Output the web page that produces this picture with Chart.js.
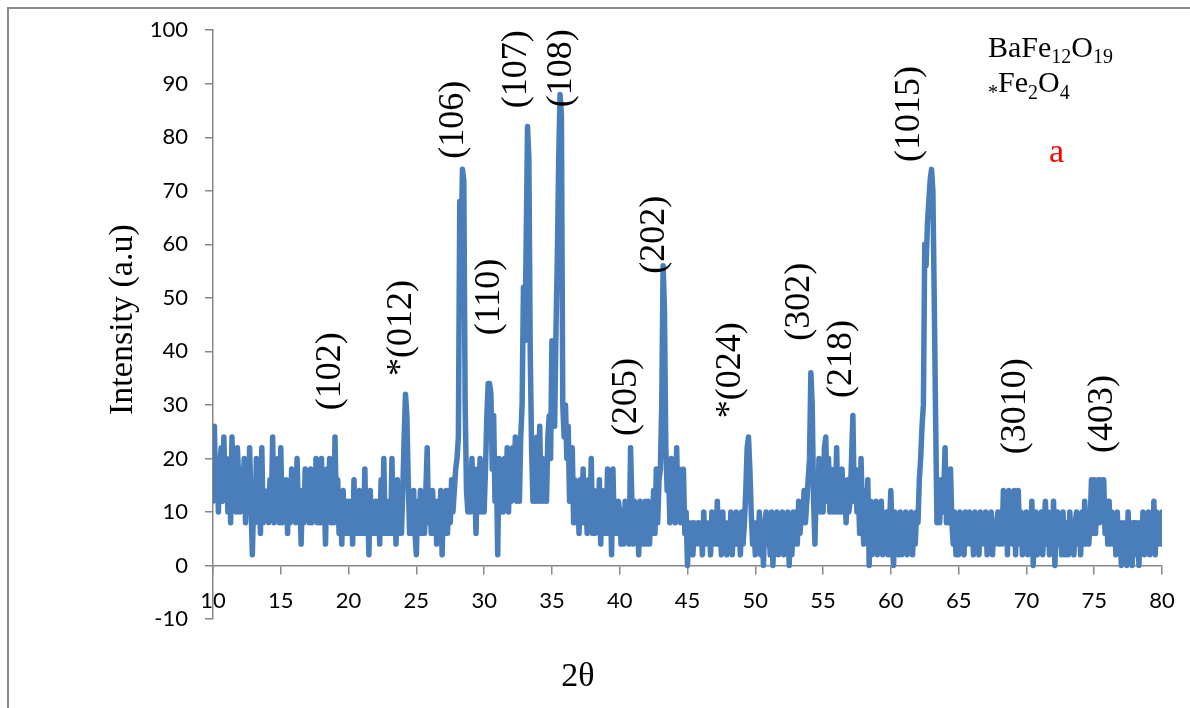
<!DOCTYPE html>
<html>
<head>
<meta charset="utf-8">
<title>XRD pattern – BaFe12O19</title>
<script src="https://cdn.jsdelivr.net/npm/chart.js@4.4.1/dist/chart.umd.min.js"></script>
<style>
  html, body { margin: 0; padding: 0; background: #fff; }
  canvas { display: block; }
</style>
</head>
<body>
<canvas id="xrd" width="1190" height="708"></canvas>
<script>
// Diffraction scan, 10°–80° 2θ in 0.1° steps (intensity in a.u.)
const SCAN_START = 10;
const SCAN_STEP = 0.1;

// one row per degree: x.0 … x.9
const counts10s = [
  12, 26, 14, 20, 10, 18, 22, 12, 24, 14,
  20, 10, 18, 8, 24, 12, 20, 10, 22, 16,
  10, 18, 12, 20, 8, 16, 10, 22, 12, 2,
  12, 8, 20, 10, 14, 6, 22, 8, 14, 10,
  12, 8, 16, 10, 24, 8, 14, 10, 20, 8,
  22, 8, 14, 10, 16, 6, 14, 8, 18, 10,
  14, 8, 20, 10, 14, 4, 14, 8, 18, 10,
  14, 8, 18, 8, 14, 10, 20, 8, 14, 8,
  20, 8, 14, 4, 18, 10, 20, 8, 14, 8,
  24, 10, 16, 6, 12, 4, 14, 6, 12, 6
];
const counts20s = [
  12, 6, 12, 4, 16, 6, 12, 6, 14, 6,
  12, 6, 18, 6, 12, 2, 14, 6, 10, 6,
  12, 6, 12, 4, 16, 6, 20, 6, 12, 6,
  12, 6, 20, 6, 12, 4, 16, 6, 12, 6,
  14, 24, 32, 28, 16, 6, 12, 6, 14, 6,
  2, 12, 6, 14, 6, 12, 6, 14, 22, 8,
  12, 6, 14, 6, 12, 4, 12, 6, 14, 2,
  12, 6, 14, 6, 14, 8, 16, 10, 14, 18,
  20, 24, 68, 60, 74, 72, 30, 14, 10, 18,
  10, 20, 12, 16, 6, 18, 10, 20, 10, 14
];
const counts30s = [
  10, 18, 28, 34, 34, 32, 18, 28, 12, 20,
  2, 20, 10, 18, 10, 20, 12, 22, 10, 20,
  12, 22, 14, 24, 12, 20, 12, 24, 30, 52,
  42, 60, 82, 76, 40, 22, 12, 22, 12, 24,
  12, 26, 12, 20, 12, 18, 12, 24, 28, 20,
  42, 34, 26, 44, 58, 76, 88, 84, 30, 24,
  30, 20, 26, 12, 18, 22, 8, 16, 8, 14,
  6, 16, 8, 18, 8, 14, 6, 16, 8, 20,
  6, 14, 6, 12, 8, 16, 4, 14, 6, 12,
  6, 18, 6, 14, 2, 18, 6, 12, 6, 12
];
const counts40s = [
  10, 4, 10, 4, 12, 6, 10, 4, 22, 12,
  4, 12, 6, 10, 2, 12, 4, 10, 4, 12,
  4, 12, 4, 10, 6, 14, 6, 18, 8, 16,
  18, 30, 56, 48, 22, 14, 18, 8, 20, 10,
  16, 8, 22, 10, 18, 8, 14, 18, 6, 10,
  0, 8, 4, 8, 2, 8, 4, 6, 8, 4,
  8, 2, 10, 4, 8, 4, 8, 2, 10, 4,
  8, 4, 12, 4, 8, 2, 10, 4, 8, 2,
  8, 4, 10, 2, 8, 4, 10, 4, 8, 2,
  10, 4, 8, 14, 22, 24, 18, 10, 4, 8
];
const counts50s = [
  2, 8, 4, 10, 2, 8, 0, 8, 10, 4,
  8, 2, 10, 0, 8, 4, 10, 2, 8, 4,
  10, 2, 8, 4, 10, 0, 8, 2, 10, 4,
  10, 4, 12, 6, 10, 8, 14, 8, 12, 16,
  20, 36, 30, 12, 4, 16, 10, 20, 10, 18,
  10, 22, 24, 12, 20, 10, 18, 10, 14, 10,
  22, 10, 16, 10, 18, 10, 14, 8, 16, 10,
  12, 20, 28, 12, 18, 10, 14, 6, 20, 10,
  4, 14, 6, 16, 0, 12, 2, 10, 4, 12,
  2, 8, 4, 12, 2, 8, 4, 10, 2, 8
];
const counts60s = [
  14, 4, 0, 10, 4, 8, 2, 10, 2, 8,
  4, 10, 2, 8, 4, 10, 2, 8, 4, 10,
  8, 16, 20, 26, 30, 60, 56, 64, 68, 72,
  74, 70, 50, 28, 8, 12, 8, 16, 10, 14,
  22, 8, 16, 8, 18, 8, 4, 10, 2, 8,
  2, 10, 4, 8, 2, 10, 4, 8, 10, 4,
  8, 2, 10, 4, 8, 2, 10, 4, 8, 4,
  10, 2, 8, 4, 10, 2, 8, 4, 8, 10,
  4, 10, 4, 14, 6, 12, 2, 14, 6, 10,
  4, 14, 2, 12, 14, 4, 10, 2, 8, 4
];
const counts70s = [
  10, 2, 8, 4, 12, 0, 8, 10, 2, 8,
  4, 10, 2, 8, 12, 4, 10, 2, 8, 4,
  12, 0, 8, 10, 4, 8, 2, 10, 2, 8,
  8, 2, 10, 4, 8, 2, 8, 10, 4, 8,
  2, 10, 4, 12, 4, 10, 4, 8, 16, 6,
  16, 6, 14, 16, 8, 16, 10, 16, 6, 12,
  4, 12, 4, 10, 4, 8, 2, 10, 4, 8,
  0, 8, 2, 8, 0, 10, 2, 8, 0, 8,
  8, 2, 8, 0, 8, 4, 10, 2, 8, 4,
  10, 2, 8, 4, 12, 2, 10, 4, 8, 4
];
const counts80 = [10];

// axis ticks
const xTickValues = [10, 15, 20, 25, 30, 35, 40, 45, 50, 55, 60, 65, 70, 75, 80];
const yTickValues = [-10, 0, 10, 20, 30, 40, 50, 60, 70, 80, 90, 100];

// reflection labels: text, 2θ of the label, intensity where the text starts
const peakNames = ['(102)', '*(012)', '(106)', '(110)', '(107)', '(108)', '(205)',
                   '(202)', '*(024)', '(302)', '(218)', '(1015)', '(3010)', '(403)'];
const peakTwoTheta = [18.7, 23.95, 27.8, 30.4, 32.4, 35.75, 40.5,
                      42.6, 48.2, 53.3, 56.4, 61.4, 69.2, 75.6];
const peakTextBase = [29, 35.4, 76, 43, 85.4, 85.6, 24.2,
                      54.5, 27.5, 42, 31.3, 75.4, 20.8, 21];

const AXIS_GREY = '#878787';
const LINE_BLUE = '#4a7ebb';
const SERIF = '"Liberation Serif", "Times New Roman", serif';

const intensity = [].concat(counts10s, counts20s, counts30s, counts40s,
                            counts50s, counts60s, counts70s, counts80);
const scanPoints = intensity.map((v, i) => ({
  x: +(SCAN_START + i * SCAN_STEP).toFixed(1),
  y: v
}));

// draws runs of normal / subscript text, returns the end x
function drawRuns(ctx, x, baseline, runs, size, subSize, subDrop) {
  runs.forEach(([text, sub]) => {
    ctx.font = (sub ? subSize : size) + 'px ' + SERIF;
    ctx.fillText(text, x, baseline + (sub ? subDrop : 0));
    x += ctx.measureText(text).width;
  });
  return x;
}

const annotationText = {
  id: 'annotationText',
  beforeDraw(chart) {
    const ctx = chart.ctx;
    ctx.save();
    ctx.strokeStyle = '#8c8c8c';
    ctx.lineWidth = 2;
    ctx.beginPath();
    ctx.moveTo(8, chart.height);
    ctx.lineTo(8, 8);
    ctx.lineTo(chart.width, 8);
    ctx.stroke();
    ctx.restore();
  },
  afterDraw(chart) {
    const ctx = chart.ctx;
    const xs = chart.scales.x, ys = chart.scales.y;
    const area = chart.chartArea;
    ctx.save();
    ctx.fillStyle = '#000';
    ctx.textAlign = 'left';
    ctx.textBaseline = 'alphabetic';

    // reflection indices, written upwards
    const size = 36;
    ctx.font = size + 'px ' + SERIF;
    peakNames.forEach((name, i) => {
      const px = xs.getPixelForValue(peakTwoTheta[i]) + 0.255 * size;
      const py = ys.getPixelForValue(peakTextBase[i]);
      ctx.save();
      ctx.translate(px, py);
      ctx.rotate(-Math.PI / 2);
      ctx.fillText(name, 0, 0);
      ctx.restore();
    });

    // axis titles
    ctx.font = '34px ' + SERIF;
    ctx.save();
    ctx.translate(132, (area.top + area.bottom) / 2 - 5);
    ctx.rotate(-Math.PI / 2);
    ctx.textAlign = 'center';
    ctx.fillText('Intensity (a.u)', 0, 0);
    ctx.restore();

    ctx.textAlign = 'center';
    ctx.fillText('2θ', 578, 686);

    // phase key
    ctx.textAlign = 'left';
    drawRuns(ctx, 988, 57, [['BaFe', false], ['12', true], ['O', false], ['19', true]], 30, 20, 6);
    drawRuns(ctx, 988, 92, [['*', true], ['Fe', false], ['2', true], ['O', false], ['4', true]], 30, 20, 7);

    ctx.fillStyle = '#ff0000';
    ctx.font = '34px ' + SERIF;
    ctx.fillText('a', 1049, 162);
    ctx.restore();
  }
};

function buildChart() {
  new Chart(document.getElementById('xrd'), {
    type: 'line',
    data: {
      datasets: [{
        data: scanPoints,
        borderColor: LINE_BLUE,
        backgroundColor: LINE_BLUE,
        borderWidth: 5.5,
        borderJoinStyle: 'round',
        borderCapStyle: 'round',
        pointRadius: 0,
        tension: 0,
        fill: false
      }]
    },
    options: {
      responsive: false,
      animation: false,
      devicePixelRatio: 1,
      layout: { padding: { left: 0, top: 28, right: 28, bottom: 89 } },
      plugins: { legend: { display: false }, tooltip: { enabled: false } },
      scales: {
        x: {
          type: 'linear',
          position: { y: 0 },
          min: 10,
          max: 80,
          afterBuildTicks: s => { s.ticks = xTickValues.map(v => ({ value: v })); },
          grid: { drawOnChartArea: false, drawTicks: true, tickLength: 8, color: AXIS_GREY, lineWidth: 1.5 },
          border: { display: true, color: AXIS_GREY, width: 1.5 },
          ticks: { color: '#000', font: { family: 'Lato', size: 22 }, padding: 14, maxRotation: 0, autoSkip: false }
        },
        y: {
          type: 'linear',
          position: 'left',
          min: -10,
          max: 100,
          afterBuildTicks: s => { s.ticks = yTickValues.map(v => ({ value: v })); },
          afterFit: s => { s.width = 213; },
          grid: { drawOnChartArea: false, drawTicks: true, tickLength: 8, color: AXIS_GREY, lineWidth: 1.5 },
          border: { display: true, color: AXIS_GREY, width: 1.5 },
          ticks: { color: '#000', font: { family: 'Lato', size: 22 }, padding: 17 }
        }
      }
    },
    plugins: [annotationText]
  });
}

// make sure the installed faces are ready before the canvas text is drawn
Promise.all([
  document.fonts.load('36px "Liberation Serif"'),
  document.fonts.load('22px "Lato"')
]).then(buildChart, buildChart);
</script>
</body>
</html>
